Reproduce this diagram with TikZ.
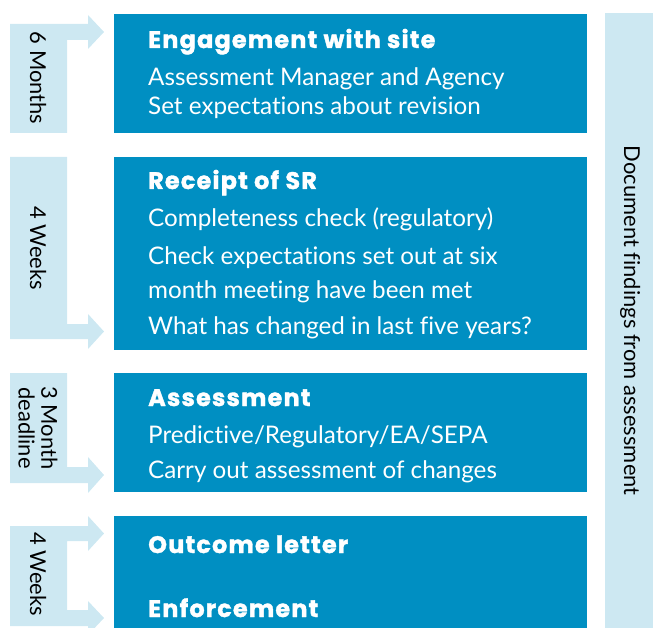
\documentclass[tikz,border=0pt]{standalone}
\usepackage{fontspec}
\setmainfont{Lato}[Ligatures=NoCommon]
\newfontfamily\headfont{Poppins}[Ligatures=NoCommon, LetterSpace=5, BoldFeatures={FakeBold=1.5}]
\definecolor{stepblue}{RGB}{0,143,194}
\definecolor{paleblue}{RGB}{205,232,242}

\begin{document}
\begin{tikzpicture}[x=1bp,y=-1bp,
  stagebox/.style={fill=stepblue, draw=none, inner sep=0, anchor=north west, minimum width=473bp},
  headtext/.style={anchor=base west, inner sep=0, text=white, font=\headfont\fontsize{24}{26}\selectfont\bfseries},
  itemtext/.style={anchor=base west, inner sep=0, text=white, font=\fontsize{24.3}{28}\selectfont},
  spanfill/.style={fill=paleblue, draw=none},
  spanlabel/.style={rotate=-90, font=\fontsize{22}{23}\selectfont, align=center, inner sep=0, text=black}]

\useasboundingbox (0,0) rectangle (653,628);

% stage boxes
\node[stagebox, minimum height=119bp] (s1) at (114,14) {};
\node[stagebox, minimum height=193bp] (s2) at (114,157) {};
\node[stagebox, minimum height=119bp] (s3) at (114,373) {};
\node[stagebox, minimum height=112bp] (s4) at (114,516) {};

% stage texts
\node[headtext] (h1) at (148,48) {Engagement with site};
\node[itemtext] (i11) at (148,86) {Assessment Manager and Agency};
\node[itemtext] (i12) at (148,115) {Set expectations about revision};

\node[headtext] (h2) at (148,189) {Receipt of SR};
\node[itemtext] (i21) at (148,226) {Completeness check (regulatory)};
\node[itemtext] (i22) at (148,264) {Check expectations set out at six};
\node[itemtext] (i23) at (148,298) {month meeting have been met};
\node[itemtext] (i24) at (148,334) {What has changed in last five years?};

\node[headtext] (h3) at (148,406) {Assessment};
\node[itemtext] (i31) at (148,443) {Predictive/Regulatory/EA/SEPA};
\node[itemtext] (i32) at (148,478) {Carry out assessment of changes};

\node[headtext] (h4) at (148,553) {Outcome letter};
\node[headtext] (h5) at (148,617) {Enforcement};

% timing bars with arrows into the stages
\fill[paleblue] (10,133) -- (10,24) -- (88,24) -- (88,15) -- (104,32) -- (88,49)
  -- (88,40) -- (67,40) -- (67,133) -- cycle;
\fill[paleblue] (10,157) -- (67,157) -- (67,324) -- (88,324) -- (88,314) -- (104,331.5)
  -- (88,349) -- (88,339) -- (10,339) -- cycle;
\fill[paleblue] (10,373) -- (67,373) -- (67,467) -- (88,467) -- (88,457) -- (104,475)
  -- (88,493) -- (88,483) -- (10,483) -- cycle;
\fill[paleblue] (10,626) -- (10,526) -- (88,526) -- (88,516) -- (104,533.5) -- (88,551)
  -- (88,541) -- (67,541) -- (67,610) -- (88,610) -- (88,601) -- (104,618) -- (88,635)
  -- (88,626) -- cycle;

\node[spanlabel] (l1) at (38,78) {6 Months};
\node[spanlabel] (l2) at (38,248) {4 Weeks};
\node[spanlabel] (l3) at (38,428) {3 Month\\deadline};
\node[spanlabel] (l4) at (38,574) {4 Weeks};

% findings bar
\node[spanfill, anchor=north west, minimum width=48bp, minimum height=615bp, inner sep=0] (doc) at (605,13) {};
\node[spanlabel] (docl) at ([xshift=1bp]doc.center) {Document findings from assessment};
\end{tikzpicture}
\end{document}
